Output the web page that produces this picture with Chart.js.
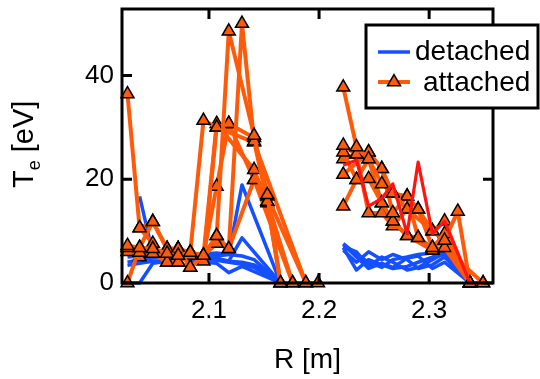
<!DOCTYPE html>
<html>
<head>
<meta charset="utf-8">
<script src="https://cdn.jsdelivr.net/npm/chart.js@4.4.1/dist/chart.umd.min.js"></script>
<style>
  html, body { margin: 0; padding: 0; background: #fff; }
  #wrap { width: 540px; height: 379px; }
</style>
</head>
<body>
<div id="wrap"><canvas id="te" width="540" height="379"></canvas></div>
<script>
'use strict';

/* ---- probe positions [m] ---- */
const rInner = [2.026, 2.037, 2.049, 2.062, 2.072, 2.083, 2.095, 2.107, 2.118, 2.130, 2.141, 2.153, 2.165, 2.176, 2.188, 2.199];
const rOuter = [2.222, 2.234, 2.245, 2.257, 2.267, 2.280, 2.290, 2.303, 2.314, 2.326, 2.337, 2.349];

/* ---- Te profiles [eV], null = probe not read ---- */
const attachedInner = [
  [7.2, 6.8, 6.6, 5.7, 5.3, 5.9, 5.3, 9.1, 48.5, null, 28.4, 17.0, 0, null, null, null],
  [null, 5.9, 5.7, 6.6, 6.6, 3.0, 5.3, 7.6, 6.6, 50.0, 27.3, 15.7, null, 0, null, null],
  [36.4, 10.6, 7.6, 4.0, 4.0, 5.9, 31.3, 30.0, 30.7, null, 28.0, 16.7, null, null, 0, null],
  [0, 6.8, 11.8, 6.6, 5.3, 5.9, 5.3, 30.7, null, null, 21.8, 15.4, 0, null, null, null],
  [6.8, 5.0, 6.6, 5.7, 6.6, 5.3, 5.3, 18.6, 30.7, null, 19.9, null, null, 0, null, null],
  [6.0, 5.9, 5.7, 4.0, 4.0, 3.0, 5.3, 9.1, 6.6, null, 19.9, 15.7, 0, null, null, 0],
  [null, 10.6, 11.8, 6.6, 6.6, 5.9, 4.2, 30.0, null, null, 27.1, null, null, null, 0, null]
];
const attachedOuter = [
  [37.7, 26.2, 23.9, 19.1, 17.3, 14.2, 14.2, 10.0, 8.2, 13.8, 0, null],
  [26.5, 24.8, 25.2, 22.0, 13.5, 16.7, 8.7, 6.8, 9.5, null, 0, null],
  [25.2, 19.9, 20.1, 15.4, 11.9, 9.1, null, 6.3, 6.8, null, 0, null],
  [23.9, 24.8, 13.5, 13.5, 11.0, 14.2, null, 10.0, 11.9, null, 0, 0],
  [20.9, null, 25.2, 22.0, 17.3, 16.7, 14.2, 6.8, 8.2, null, 0, null],
  [14.8, 19.9, 23.9, 15.4, 11.9, 9.1, 8.7, 6.3, 6.8, null, null, 0]
];
const detachedInner = [
  [3.4, 3.8, 4.2, 4.4, 4.6, 4.7, 5.0, 5.2, 5.5, 18.9, null, null, 0, null, null, null],
  [null, 16.7, 5.7, 5.0, 4.8, 5.0, 4.5, 4.8, 4.2, 8.7, null, null, 0, null, null, null],
  [0, 0, 3.8, 4.2, 4.5, 4.6, 4.6, 4.4, 4.0, 3.6, 3.0, null, 0, 0, 0, 0],
  [5.0, 5.2, 5.5, 5.3, 5.0, 5.2, 5.6, 5.8, 5.5, 5.2, 4.5, null, 0, null, null, null],
  [4.0, 4.5, 4.8, 5.2, 5.0, 4.4, 4.0, 3.8, 2.0, 3.2, null, null, 0, null, null, null],
  [null, null, 6.0, 5.6, 5.4, 5.5, 5.0, 4.6, 4.2, 4.0, 3.5, 2.0, 0, null, null, null]
];
const detachedOuter = [
  [7.6, 5.5, 4.0, 3.0, 4.5, 5.0, 5.5, 5.8, 6.0, 5.0, 0, null],
  [6.8, 2.5, 4.5, 3.5, 2.8, 3.2, 4.0, 5.0, 5.5, null, 0, null],
  [7.0, 6.0, 3.2, 5.0, 4.0, 2.5, 3.0, 4.5, 5.8, null, 0, null],
  [6.3, 4.0, 6.0, 4.5, 5.5, 4.5, 2.8, 3.5, 5.0, null, 0, null],
  [7.4, 5.0, 2.8, 3.8, 3.0, 4.8, 5.2, 2.8, 4.0, null, 0, null]
];
const transitionOuter = [22.7, 23.7, 14.8, 16.3, 19.1, 9.5, 23.3, 9.5, 11.9, null, 0, 0];

const xTicks = [2.1, 2.2, 2.3];
const yTicks = [0, 20, 40];

/* ---- styling ---- */
const BLUE   = '#1450ff';
const ORANGE = '#ff5a0a';
const RED    = '#ff1414';
const FONT   = "'Liberation Sans', Arial, sans-serif";

const toPoints = (r, vals) =>
  r.map((x, i) => ({ x, y: vals[i] })).filter(p => p.y !== null);

function blueSet(r, v) {
  return {
    data: toPoints(r, v),
    borderColor: BLUE, borderWidth: 3.5, pointRadius: 0,
    order: 2, clip: false
  };
}

function orangeSet(r, v) {
  return {
    data: toPoints(r, v),
    borderColor: ORANGE, borderWidth: 4,
    pointStyle: 'triangle', pointRadius: 7.5,
    pointBackgroundColor: ORANGE, pointBorderColor: '#000', pointBorderWidth: 1.5,
    order: 1, clip: false
  };
}

const datasets = [];
detachedInner.forEach(v => datasets.push(blueSet(rInner, v)));
detachedOuter.forEach(v => datasets.push(blueSet(rOuter, v)));
attachedInner.forEach(v => datasets.push(orangeSet(rInner, v)));
attachedOuter.forEach(v => datasets.push(orangeSet(rOuter, v)));
datasets.push({
  data: toPoints(rOuter, transitionOuter),
  borderColor: RED, borderWidth: 3.2, pointRadius: 0,
  order: 0, clip: false
});

/* ---- frame with inward ticks on all four sides, plus axis titles ---- */
const framePlugin = {
  id: 'frame',
  afterDatasetsDraw(chart) {
    const { ctx, chartArea: a, scales } = chart;
    ctx.save();
    ctx.strokeStyle = '#000';
    ctx.lineWidth = 3;
    ctx.strokeRect(a.left, a.top, a.right - a.left, a.bottom - a.top);
    const tl = 10;
    ctx.beginPath();
    xTicks.forEach(v => {
      const px = scales.x.getPixelForValue(v);
      ctx.moveTo(px, a.bottom); ctx.lineTo(px, a.bottom - tl);
      ctx.moveTo(px, a.top);    ctx.lineTo(px, a.top + tl);
    });
    yTicks.forEach(v => {
      const py = scales.y.getPixelForValue(v);
      ctx.moveTo(a.left, py);  ctx.lineTo(a.left + tl, py);
      ctx.moveTo(a.right, py); ctx.lineTo(a.right - tl, py);
    });
    ctx.stroke();

    ctx.fillStyle = '#000';
    ctx.textBaseline = 'alphabetic';
    ctx.textAlign = 'center';
    ctx.font = '28px ' + FONT;
    ctx.fillText('R [m]', (a.left + a.right) / 2, 368);

    ctx.translate(33, 188);
    ctx.rotate(-Math.PI / 2);
    ctx.textAlign = 'left';
    ctx.font = '29px ' + FONT;
    ctx.fillText('T', 0, 0);
    let w = ctx.measureText('T').width;
    ctx.font = '18px ' + FONT;
    ctx.fillText('e', w, 7);
    w += ctx.measureText('e').width;
    ctx.font = '29px ' + FONT;
    ctx.fillText(' [eV]', w, 0);
    ctx.restore();
  }
};

/* ---- boxed legend overlapping the top-right corner ---- */
const legendPlugin = {
  id: 'boxLegend',
  afterDraw(chart) {
    const { ctx } = chart;
    ctx.save();
    ctx.fillStyle = '#fff';
    ctx.fillRect(366, 25, 172, 83);
    ctx.strokeStyle = '#000';
    ctx.lineWidth = 3;
    ctx.strokeRect(366, 25, 172, 83);

    ctx.strokeStyle = BLUE;
    ctx.lineWidth = 3.5;
    ctx.beginPath(); ctx.moveTo(378, 52); ctx.lineTo(410, 52); ctx.stroke();

    ctx.strokeStyle = ORANGE;
    ctx.lineWidth = 4;
    ctx.beginPath(); ctx.moveTo(378, 82); ctx.lineTo(410, 82); ctx.stroke();

    // triangle marker
    const cx = 394, cy = 82, r = 7.5;
    ctx.beginPath();
    for (let k = 0; k < 3; k++) {
      const ang = k * 2 * Math.PI / 3;
      const px = cx + Math.sin(ang) * r, py = cy - Math.cos(ang) * r;
      k ? ctx.lineTo(px, py) : ctx.moveTo(px, py);
    }
    ctx.closePath();
    ctx.fillStyle = ORANGE;
    ctx.fill();
    ctx.strokeStyle = '#000';
    ctx.lineWidth = 1.5;
    ctx.stroke();

    ctx.fillStyle = '#000';
    ctx.font = '28px ' + FONT;
    ctx.textBaseline = 'alphabetic';
    ctx.fillText('detached', 415, 60);
    ctx.fillText('attached', 423, 91);
    ctx.restore();
  }
};

new Chart(document.getElementById('te'), {
  type: 'line',
  data: { datasets },
  options: {
    responsive: false,
    animation: false,
    layout: { padding: { top: 5, right: 47, left: 0, bottom: 0 } },
    plugins: { legend: { display: false }, tooltip: { enabled: false } },
    elements: { line: { tension: 0, borderJoinStyle: 'round' } },
    scales: {
      x: {
        type: 'linear', min: 2.021, max: 2.358,
        grid: { display: false, drawTicks: false },
        border: { display: false },
        afterBuildTicks: s => { s.ticks = xTicks.map(v => ({ value: v })); },
        afterFit: s => { s.height = 96; s.paddingLeft = 0; s.paddingRight = 0; },
        ticks: {
          font: { family: FONT, size: 26 }, color: '#000', padding: 12,
          autoSkip: false, maxRotation: 0,
          callback: v => v.toFixed(1)
        }
      },
      y: {
        type: 'linear', min: 0, max: 52.8,
        grid: { display: false, drawTicks: false },
        border: { display: false },
        afterBuildTicks: s => { s.ticks = yTicks.map(v => ({ value: v })); },
        afterFit: s => { s.width = 122; s.paddingTop = 0; s.paddingBottom = 0; },
        ticks: {
          font: { family: FONT, size: 26 }, color: '#000', padding: 8,
          callback: v => String(v)
        }
      }
    }
  },
  plugins: [framePlugin, legendPlugin]
});
</script>
</body>
</html>
